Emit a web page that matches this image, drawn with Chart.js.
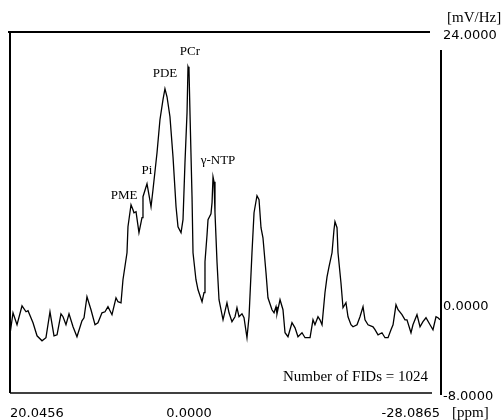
<!DOCTYPE html>
<html><head><meta charset="utf-8">
<script src="https://cdn.jsdelivr.net/npm/chart.js@4.4.1/dist/chart.umd.min.js"></script>
<style>html,body{margin:0;padding:0;background:#fff;}canvas{display:block}</style>
</head><body>
<canvas id="c" width="502" height="420"></canvas>
<script>
// Chemical shift (ppm) of each sampled point of the 31P spectrum
const ppm = [20.05,19.93,19.71,19.26,18.70,18.25,18.03,17.47,17.02,16.46,16.02,15.57,15.12,14.78,14.34,14.11,13.78,13.44,12.99,12.55,
  11.99,11.76,11.43,10.98,10.53,10.20,9.75,9.41,9.08,8.63,8.18,7.96,7.62,7.40,6.95,6.84,6.50,6.28,6.17,5.94,
  5.61,5.27,5.16,4.71,4.49,4.26,4.04,3.59,3.26,2.92,2.70,2.47,2.14,1.80,1.46,1.24,0.90,0.68,0.46,0.23,
  0.12,0.01,-0.10,-0.33,-0.44,-0.77,-1.00,-1.45,-1.67,-1.78,-2.01,-2.12,-2.45,-2.57,-2.68,-2.79,-2.90,-3.13,-3.35,-3.80,
  -4.24,-4.47,-4.80,-5.14,-5.36,-5.59,-5.92,-6.15,-6.48,-6.71,-7.04,-7.27,-7.60,-7.83,-8.05,-8.27,-8.61,-8.83,-9.28,-9.51,
  -9.73,-9.84,-10.18,-10.51,-10.74,-11.07,-11.52,-11.86,-12.19,-12.64,-12.98,-13.54,-13.87,-14.09,-14.43,-14.65,-14.88,-15.21,-15.44,-15.66,
  -16.00,-16.22,-16.33,-16.56,-16.67,-17.00,-17.23,-17.56,-17.79,-18.12,-18.35,-18.80,-19.13,-19.47,-19.69,-20.03,-20.59,-20.81,-21.15,-21.59,
  -21.93,-22.27,-22.60,-22.83,-23.16,-23.39,-23.83,-24.17,-24.39,-24.84,-25.06,-25.51,-25.85,-26.18,-26.52,-26.97,-27.30,-27.64,-27.86,-28.09];
// Signal intensity (mV/Hz)
const signal = [-1.51,-2.13,-0.89,-1.95,-0.27,-0.80,-0.71,-1.77,-2.93,-3.37,-3.10,-0.80,-2.93,-2.84,-0.98,-1.24,-1.95,-0.98,-2.13,-3.01,
  -1.60,-1.33,0.53,-0.62,-1.95,-1.77,-0.89,-0.80,-0.35,-1.06,0.44,0.09,0.00,2.04,4.43,6.74,8.69,8.24,7.98,8.07,
  6.21,7.54,9.40,10.55,9.57,8.51,10.02,13.30,16.22,18.00,18.97,18.26,16.49,12.94,8.51,6.74,6.21,7.36,12.41,16.84,
  20.92,20.66,16.84,9.40,4.43,2.04,1.15,0.09,0.89,3.63,6.03,7.36,7.89,8.87,11.17,10.73,7.98,3.55,0.27,-1.51,
  0.00,-0.89,-1.68,-1.24,-0.44,-1.24,-0.98,-1.33,-3.10,-1.24,4.43,7.98,9.49,9.13,6.65,5.76,2.66,0.44,-0.62,-0.89,
  -0.35,-0.98,0.27,-0.62,-2.66,-3.01,-1.77,-2.22,-3.01,-2.66,-3.10,-3.10,-1.51,-1.95,-1.24,-1.51,-1.95,0.89,2.30,3.19,
  4.43,6.47,7.18,6.65,4.43,1.77,-0.44,0.00,-1.24,-1.95,-2.13,-1.95,-1.24,-0.35,-1.51,-1.95,-2.13,-2.39,-2.84,-2.66,
  -3.10,-3.10,-2.39,-1.95,-0.18,-0.62,-1.06,-1.51,-1.51,-2.66,-1.95,-1.06,-2.13,-1.68,-1.33,-1.95,-2.39,-1.24,-1.33,-1.51];

const xTickValues = [20.0456, 0, -28.0865];
const xTickLabels = ['20.0456', '0.0000', '-28.0865'];
const yTickValues = [-8, 0, 24];
const yTickLabels = ['-8.0000', '0.0000', '24.0000'];

const peakNames = ['PME', 'Pi', 'PDE', 'PCr', 'γ-NTP'];
const peakLabelPpm = [7.28, 4.71, 2.70, -0.10, -3.24];
const peakLabelValue = [9.49, 11.70, 20.30, 22.25, 12.59];

const xUnit = '[ppm]';
const yUnit = '[mV/Hz]';
const noteText = 'Number of FIDs = 1024';

const SERIF = '"Liberation Serif", "DejaVu Serif", serif';
const SANS = '"DejaVu Sans", sans-serif';

const decorPlugin = {
  id: 'decor',
  afterDraw(chart) {
    const ctx = chart.ctx;
    const a = chart.chartArea;
    const xs = chart.scales.x, ys = chart.scales.y;
    ctx.save();
    ctx.strokeStyle = '#000';
    ctx.lineCap = 'butt';
    // frame
    ctx.lineWidth = 2;
    ctx.beginPath(); ctx.moveTo(a.left - 2, a.top); ctx.lineTo(a.right - 10, a.top); ctx.stroke();
    ctx.beginPath(); ctx.moveTo(a.left, a.top); ctx.lineTo(a.left, a.bottom); ctx.stroke();
    ctx.lineWidth = 1.5;
    ctx.beginPath(); ctx.moveTo(a.left, a.bottom); ctx.lineTo(a.right - 8, a.bottom); ctx.stroke();
    ctx.lineWidth = 2;
    ctx.beginPath(); ctx.moveTo(a.right + 1, a.top + 18); ctx.lineTo(a.right + 1, a.bottom + 2); ctx.stroke();
    // texts
    ctx.fillStyle = '#000';
    ctx.font = '15px ' + SERIF;
    ctx.textBaseline = 'middle';
    ctx.textAlign = 'left';
    ctx.fillText(yUnit, a.right + 7, 18);
    ctx.fillText(xUnit, a.right + 12, 413);
    ctx.textAlign = 'right';
    ctx.fillText(noteText, a.right - 12, a.bottom - 16);
    ctx.font = '13px ' + SERIF;
    ctx.textAlign = 'center';
    for (let i = 0; i < peakNames.length; i++) {
      ctx.fillText(peakNames[i], xs.getPixelForValue(peakLabelPpm[i]), ys.getPixelForValue(peakLabelValue[i]));
    }
    ctx.restore();
  }
};

new Chart(document.getElementById('c'), {
  type: 'line',
  data: {
    datasets: [{
      data: ppm.map((x, i) => ({ x: x, y: signal[i] })),
      borderColor: '#000',
      borderWidth: 1.3,
      pointRadius: 0,
      tension: 0,
      fill: false
    }]
  },
  options: {
    responsive: false,
    animation: false,
    devicePixelRatio: 1,
    layout: { padding: { left: 10, top: 32, right: 0, bottom: 0 } },
    plugins: { legend: { display: false }, tooltip: { enabled: false } },
    scales: {
      x: {
        type: 'linear', reverse: true, min: -28.0865, max: 20.0456,
        afterBuildTicks: s => { s.ticks = xTickValues.slice().sort((p, q) => p - q).map(v => ({ value: v })); },
        afterFit: s => { s.height = 27; },
        ticks: {
          autoSkip: false, maxRotation: 0, minRotation: 0, align: 'inner', padding: 13,
          color: '#000', font: { family: SANS, size: 13 },
          callback: v => xTickLabels[xTickValues.indexOf(v)]
        },
        grid: { display: false, drawTicks: false },
        border: { display: false }
      },
      y: {
        position: 'right', min: -8, max: 24,
        afterBuildTicks: s => { s.ticks = yTickValues.slice().sort((p, q) => p - q).map(v => ({ value: v })); },
        afterFit: s => { s.width = 62; },
        ticks: {
          padding: 3, labelOffset: 4,
          color: '#000', font: { family: SANS, size: 13 },
          callback: v => yTickLabels[yTickValues.indexOf(v)]
        },
        grid: { display: false, drawTicks: false },
        border: { display: false }
      }
    }
  },
  plugins: [decorPlugin]
});
</script>
</body></html>
